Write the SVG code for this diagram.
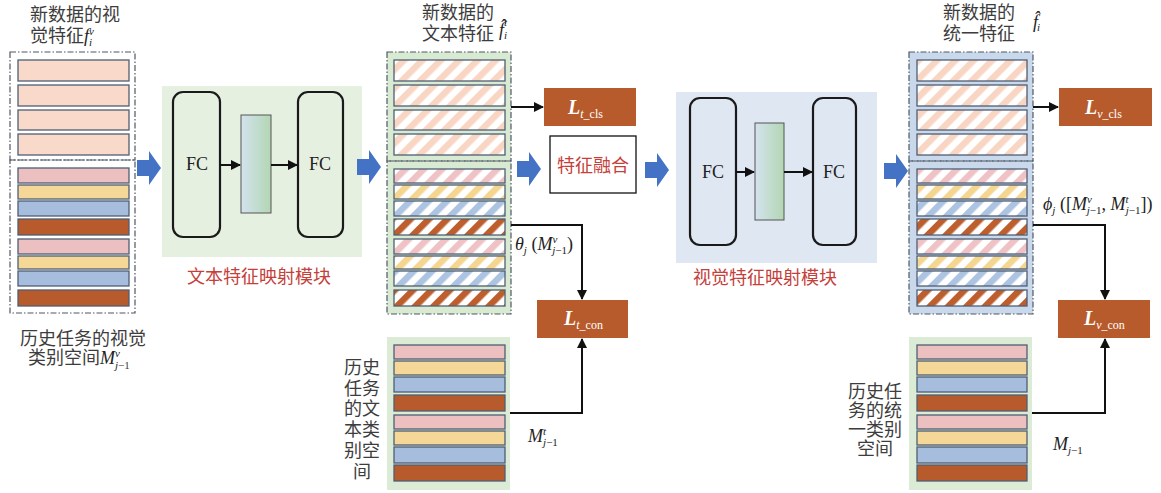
<svg xmlns="http://www.w3.org/2000/svg" width="1161" height="493" viewBox="0 0 1161 493">
<defs>
<style>
.cjk{font-family:"Liberation Sans","Noto Sans CJK SC",sans-serif;font-size:18px;fill:#3d3d3d}
.red{font-family:"Liberation Sans","Noto Sans CJK SC",sans-serif;font-size:18px;fill:#c5403b}
.fc{font-family:"Liberation Serif",serif;font-size:18px;fill:#222;text-anchor:middle}
.m{font-family:"Liberation Serif",serif;font-size:18px;font-style:italic;fill:#222}
.s{font-size:11px}
.L{font-family:"Liberation Serif",serif;font-size:20px;font-style:italic;font-weight:bold;fill:#fff}
.Ls{font-size:12px;font-weight:normal}
.bar{stroke:#4f5f74;stroke-width:1.3}
.dash{fill:none;stroke:#4f5866;stroke-width:1.2;stroke-dasharray:6 2 1.5 2}
.fcb{fill:none;stroke:#1a1a1a;stroke-width:2.2}
.orange{fill:#b75b2c}
.blk{fill:#4472c4}
.con{fill:none;stroke:#111;stroke-width:2}
</style>
<pattern id="hPeach" width="13" height="13" patternUnits="userSpaceOnUse" patternTransform="rotate(45)"><rect width="13" height="13" fill="#fff"/><rect width="6.5" height="13" fill="#f9d6c4"/></pattern>
<pattern id="hPink" width="13" height="13" patternUnits="userSpaceOnUse" patternTransform="rotate(45)"><rect width="13" height="13" fill="#fff"/><rect width="6.5" height="13" fill="#efc3c5"/></pattern>
<pattern id="hYel" width="13" height="13" patternUnits="userSpaceOnUse" patternTransform="rotate(45)"><rect width="13" height="13" fill="#fff"/><rect width="6.5" height="13" fill="#f5d691"/></pattern>
<pattern id="hBlue" width="13" height="13" patternUnits="userSpaceOnUse" patternTransform="rotate(45)"><rect width="13" height="13" fill="#fff"/><rect width="6.5" height="13" fill="#adc3e2"/></pattern>
<pattern id="hBrown" width="13" height="13" patternUnits="userSpaceOnUse" patternTransform="rotate(45)"><rect width="13" height="13" fill="#fff"/><rect width="6.5" height="13" fill="#bd5e2c"/></pattern>
<linearGradient id="mid" x1="0" y1="0" x2="1" y2="0"><stop offset="0" stop-color="#d3e3ee"/><stop offset="1" stop-color="#b3d6b3"/></linearGradient>
<marker id="ah" viewBox="0 0 10 10" refX="9" refY="5" markerWidth="5" markerHeight="5" orient="auto"><path d="M0,0 L10,5 L0,10 Z" fill="#111"/></marker>
<path id="barrow" d="M0,-8 H12 V-17 L24,0 L12,17 V8 H0 Z"/>
</defs>
<rect width="1161" height="493" fill="#fff"/>

<!-- Left stack: visual features of new data + historical visual class space -->
<g id="left-stack">
<rect class="dash" x="10" y="52" width="125" height="108"/>
<rect class="dash" x="10" y="160" width="125" height="153"/>
<rect class="bar" x="18" y="60" width="111" height="21" fill="#f9d9c9"/>
<rect class="bar" x="18" y="85" width="111" height="21" fill="#f9d9c9"/>
<rect class="bar" x="18" y="110" width="111" height="20" fill="#f9d9c9"/>
<rect class="bar" x="18" y="134" width="111" height="21" fill="#f9d9c9"/>
<rect class="bar" x="18" y="168" width="111" height="15" fill="#ecbfc0"/>
<rect class="bar" x="18" y="185" width="111" height="14" fill="#f5d897"/>
<rect class="bar" x="18" y="201" width="111" height="15" fill="#a7bddd"/>
<rect class="bar" x="18" y="219" width="111" height="16" fill="#b75b2c"/>
<rect class="bar" x="18" y="239" width="111" height="15" fill="#ecbfc0"/>
<rect class="bar" x="18" y="256" width="111" height="13" fill="#f5d897"/>
<rect class="bar" x="18" y="271" width="111" height="15" fill="#a7bddd"/>
<rect class="bar" x="18" y="290" width="111" height="16" fill="#b75b2c"/>
<text class="cjk" x="30" y="21">新数据的视</text>
<text class="cjk" x="30" y="42">觉特征<tspan class="m">f</tspan><tspan class="m s" dy="-7">v</tspan><tspan class="m s" dx="-5" dy="11">i</tspan></text>
<text class="cjk" x="20" y="345">历史任务的视觉</text>
<text class="cjk" x="28" y="364">类别空间<tspan class="m">M</tspan><tspan class="m s" dy="-7">v</tspan><tspan class="m s" dx="-5" dy="12">j</tspan><tspan class="s" font-family="Liberation Serif">−1</tspan></text>
</g>

<!-- Text feature mapping module -->
<g id="text-mapping-module">
<rect x="162" y="86" width="200" height="171" fill="#e6f0e1"/>
<rect class="fcb" x="173" y="92" width="47" height="145" rx="10"/>
<rect x="241" y="115" width="30" height="98" fill="url(#mid)" stroke="#555" stroke-width="1"/>
<rect class="fcb" x="298" y="92" width="45" height="145" rx="10"/>
<text class="fc" x="197" y="170">FC</text>
<text class="fc" x="320" y="170">FC</text>
<text class="red" x="187" y="283">文本特征映射模块</text>
</g>

<!-- Middle stack: text features -->
<g id="text-feature-stack">
<rect x="387" y="52" width="124" height="262" fill="#d9ead3"/>
<rect class="dash" x="387" y="52" width="124" height="109"/>
<rect class="dash" x="387" y="161" width="124" height="153"/>
<rect class="bar" x="394" y="60" width="111" height="21" fill="url(#hPeach)"/>
<rect class="bar" x="394" y="85" width="111" height="21" fill="url(#hPeach)"/>
<rect class="bar" x="394" y="110" width="111" height="20" fill="url(#hPeach)"/>
<rect class="bar" x="394" y="134" width="111" height="21" fill="url(#hPeach)"/>
<rect class="bar" x="394" y="169" width="111" height="14" fill="url(#hPink)"/>
<rect class="bar" x="394" y="185" width="111" height="14" fill="url(#hYel)"/>
<rect class="bar" x="394" y="201" width="111" height="15" fill="url(#hBlue)"/>
<rect class="bar" x="394" y="219" width="111" height="16" fill="url(#hBrown)"/>
<rect class="bar" x="394" y="239" width="111" height="15" fill="url(#hPink)"/>
<rect class="bar" x="394" y="256" width="111" height="13" fill="url(#hYel)"/>
<rect class="bar" x="394" y="271" width="111" height="15" fill="url(#hBlue)"/>
<rect class="bar" x="394" y="290" width="111" height="16" fill="url(#hBrown)"/>
<text class="cjk" x="422" y="19">新数据的</text>
<text class="cjk" x="422" y="40">文本特征</text>
<text class="m" x="499" y="36">f̂<tspan class="s" dy="-10">t</tspan><tspan class="s" dx="-3" dy="13">i</tspan></text>
</g>

<!-- Historical text class space -->
<g id="text-class-space">
<rect x="387" y="337" width="123" height="153" fill="#dcebd6"/>
<rect class="bar" x="394" y="345" width="111" height="14" fill="#ecbfc0"/>
<rect class="bar" x="394" y="361" width="111" height="14" fill="#f5d897"/>
<rect class="bar" x="394" y="377" width="111" height="15" fill="#a7bddd"/>
<rect class="bar" x="394" y="395" width="111" height="16" fill="#b75b2c"/>
<rect class="bar" x="394" y="415" width="111" height="14" fill="#ecbfc0"/>
<rect class="bar" x="394" y="431" width="111" height="14" fill="#f5d897"/>
<rect class="bar" x="394" y="447" width="111" height="16" fill="#a7bddd"/>
<rect class="bar" x="394" y="465" width="111" height="16" fill="#b75b2c"/>
<text class="cjk" text-anchor="middle"><tspan x="362" y="374">历史</tspan><tspan x="362" y="395">任务</tspan><tspan x="362" y="415">的文</tspan><tspan x="362" y="436">本类</tspan><tspan x="362" y="457">别空</tspan><tspan x="362" y="478">间</tspan></text>
</g>

<g id="L-t-cls">
<rect class="orange" x="544" y="88" width="92" height="38"/>
<text class="L" x="568" y="114">L<tspan class="Ls" dy="4">t</tspan><tspan class="Ls" font-style="normal">_cls</tspan></text>
</g>

<g id="feature-fusion">
<rect x="550" y="136" width="86" height="57" fill="#fff" stroke="#111" stroke-width="1.3"/>
<text class="red" x="593" y="172" text-anchor="middle">特征融合</text>
</g>

<g id="L-t-con">
<rect class="orange" x="537" y="300" width="91" height="38"/>
<text class="L" x="564" y="325">L<tspan class="Ls" dy="4">t</tspan><tspan class="Ls" font-style="normal">_con</tspan></text>
</g>

<!-- Visual feature mapping module -->
<g id="visual-mapping-module">
<rect x="676" y="92" width="201" height="171" fill="#dfe7f2"/>
<rect class="fcb" x="690" y="98" width="46" height="147" rx="10"/>
<rect x="755" y="123" width="29" height="97" fill="url(#mid)" stroke="#555" stroke-width="1"/>
<rect class="fcb" x="813" y="98" width="43" height="147" rx="10"/>
<text class="fc" x="713" y="178">FC</text>
<text class="fc" x="834" y="178">FC</text>
<text class="red" x="693" y="284">视觉特征映射模块</text>
</g>

<!-- Right stack: unified features -->
<g id="unified-feature-stack">
<rect x="909" y="52" width="124" height="262" fill="#c9d8ea"/>
<rect class="dash" x="909" y="52" width="124" height="109"/>
<rect class="dash" x="909" y="161" width="124" height="153"/>
<rect class="bar" x="917" y="60" width="110" height="21" fill="url(#hPeach)"/>
<rect class="bar" x="917" y="85" width="110" height="21" fill="url(#hPeach)"/>
<rect class="bar" x="917" y="110" width="110" height="20" fill="url(#hPeach)"/>
<rect class="bar" x="917" y="134" width="110" height="21" fill="url(#hPeach)"/>
<rect class="bar" x="917" y="169" width="110" height="14" fill="url(#hPink)"/>
<rect class="bar" x="917" y="185" width="110" height="14" fill="url(#hYel)"/>
<rect class="bar" x="917" y="201" width="110" height="15" fill="url(#hBlue)"/>
<rect class="bar" x="917" y="219" width="110" height="16" fill="url(#hBrown)"/>
<rect class="bar" x="917" y="239" width="110" height="15" fill="url(#hPink)"/>
<rect class="bar" x="917" y="256" width="110" height="13" fill="url(#hYel)"/>
<rect class="bar" x="917" y="271" width="110" height="15" fill="url(#hBlue)"/>
<rect class="bar" x="917" y="290" width="110" height="16" fill="url(#hBrown)"/>
<text class="cjk" x="943" y="19">新数据的</text>
<text class="cjk" x="943" y="40">统一特征</text>
<text class="m" x="1033" y="28">f̂<tspan class="s" dx="-1" dy="3">i</tspan></text>
</g>

<!-- Historical unified class space -->
<g id="unified-class-space">
<rect x="909" y="337" width="123" height="153" fill="#dcebd6"/>
<rect class="bar" x="917" y="345" width="110" height="14" fill="#ecbfc0"/>
<rect class="bar" x="917" y="361" width="110" height="14" fill="#f5d897"/>
<rect class="bar" x="917" y="377" width="110" height="15" fill="#a7bddd"/>
<rect class="bar" x="917" y="395" width="110" height="16" fill="#b75b2c"/>
<rect class="bar" x="917" y="415" width="110" height="14" fill="#ecbfc0"/>
<rect class="bar" x="917" y="431" width="110" height="14" fill="#f5d897"/>
<rect class="bar" x="917" y="447" width="110" height="16" fill="#a7bddd"/>
<rect class="bar" x="917" y="465" width="110" height="16" fill="#b75b2c"/>
<text class="cjk" text-anchor="middle"><tspan x="875" y="398">历史任</tspan><tspan x="875" y="417">务的统</tspan><tspan x="875" y="436">一类别</tspan><tspan x="875" y="455">空间</tspan></text>
</g>

<g id="L-v-cls">
<rect class="orange" x="1059" y="88" width="93" height="38"/>
<text class="L" x="1085" y="114">L<tspan class="Ls" dy="4">v</tspan><tspan class="Ls" font-style="normal">_cls</tspan></text>
</g>

<g id="L-v-con">
<rect class="orange" x="1058" y="300" width="92" height="38"/>
<text class="L" x="1084" y="325">L<tspan class="Ls" dy="4">v</tspan><tspan class="Ls" font-style="normal">_con</tspan></text>
</g>

<!-- Connectors -->
<g id="connectors">
<use href="#barrow" class="blk" x="137" y="168"/>
<use href="#barrow" class="blk" x="357" y="167"/>
<use href="#barrow" class="blk" x="517" y="169"/>
<use href="#barrow" class="blk" x="645" y="170"/>
<use href="#barrow" class="blk" x="884" y="171"/>
<line class="con" x1="220" y1="165" x2="240" y2="165" marker-end="url(#ah)"/>
<line class="con" x1="271" y1="165" x2="297" y2="165" marker-end="url(#ah)"/>
<line class="con" x1="736" y1="172" x2="754" y2="172" marker-end="url(#ah)"/>
<line class="con" x1="784" y1="172" x2="812" y2="172" marker-end="url(#ah)"/>
<line class="con" x1="511" y1="107" x2="543" y2="107" marker-end="url(#ah)"/>
<line class="con" x1="1033" y1="107" x2="1058" y2="107" marker-end="url(#ah)"/>
<polyline class="con" points="511,225 582,225 582,299" marker-end="url(#ah)"/>
<polyline class="con" points="510,413 582,413 582,339" marker-end="url(#ah)"/>
<polyline class="con" points="1033,225 1105,225 1105,299" marker-end="url(#ah)"/>
<polyline class="con" points="1032,413 1105,413 1105,339" marker-end="url(#ah)"/>
<text class="m" x="515" y="250">θ<tspan class="s" dy="4">j</tspan><tspan font-style="normal" dy="-4"> (</tspan>M<tspan class="s" dy="-7">v</tspan><tspan class="s" dx="-5" dy="11">j</tspan><tspan class="s" font-style="normal">−1</tspan><tspan font-style="normal" dy="-4">)</tspan></text>
<text class="m" x="528" y="442">M<tspan class="s" dy="-7">t</tspan><tspan class="s" dx="-3" dy="11">j</tspan><tspan class="s" font-style="normal">−1</tspan></text>
<text class="m" x="1043" y="210">ϕ<tspan class="s" dy="4">j</tspan><tspan font-style="normal" dy="-4"> ([</tspan>M<tspan class="s" dy="-7">v</tspan><tspan class="s" dx="-5" dy="11">j</tspan><tspan class="s" font-style="normal">−1</tspan><tspan font-style="normal" dy="-4">, </tspan>M<tspan class="s" dy="-7">t</tspan><tspan class="s" dx="-3" dy="11">j</tspan><tspan class="s" font-style="normal">−1</tspan><tspan font-style="normal" dy="-4">])</tspan></text>
<text class="m" x="1053" y="450">M<tspan class="s" dy="4">j</tspan><tspan class="s" font-style="normal">−1</tspan></text>
</g>
</svg>
